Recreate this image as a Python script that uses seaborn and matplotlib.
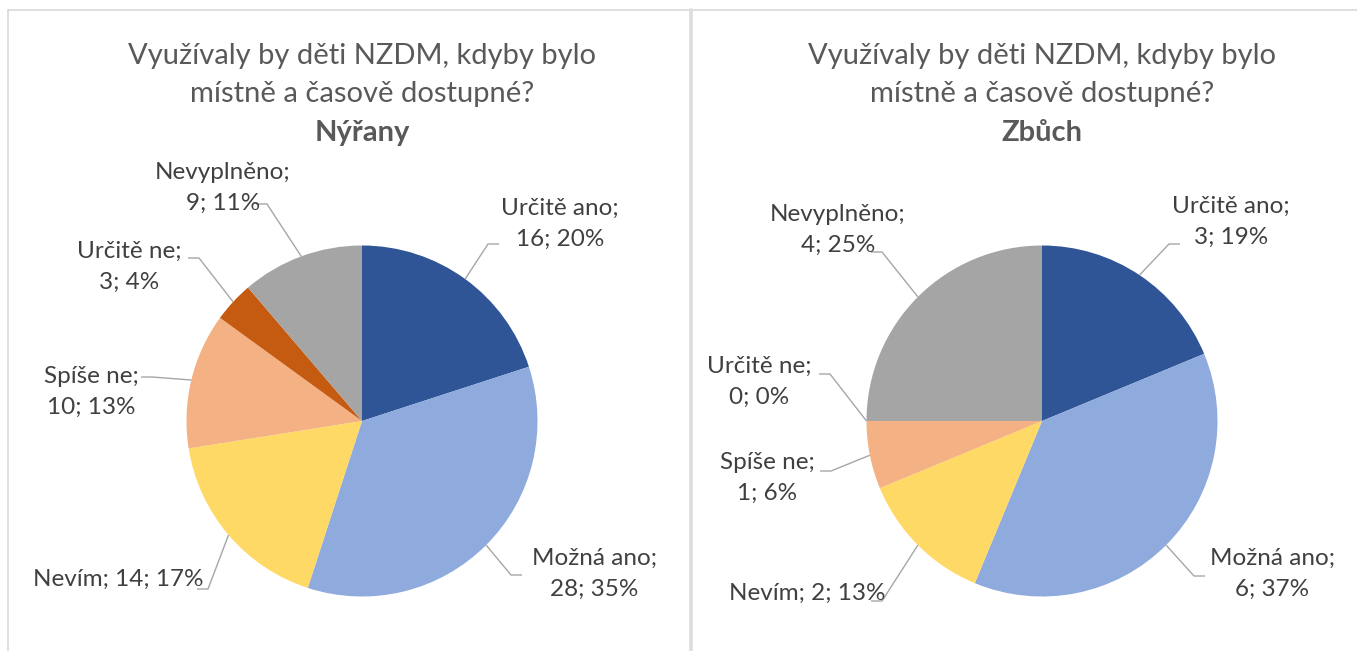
import math
import matplotlib
matplotlib.use("Agg")
import matplotlib.pyplot as plt
import seaborn as sns

# data
categories = ["Určitě ano", "Možná ano", "Nevím", "Spíše ne", "Určitě ne", "Nevyplněno"]
nyrany_counts = [16, 28, 14, 10, 3, 9]
nyrany_pct = [20, 35, 17, 13, 4, 11]
zbuch_counts = [3, 6, 2, 1, 0, 4]
zbuch_pct = [19, 37, 13, 6, 0, 25]
places = ["Nýřany", "Zbůch"]
question = "Využívaly by děti NZDM, kdyby bylo\nmístně a časově dostupné?"
slice_colors = ["#2F5597", "#8FAADC", "#FFD966", "#F4B183", "#C55A11", "#A5A5A5"]

sns.set_theme(style="white")
plt.rcParams["font.family"] = ["Lato", "DejaVu Sans"]

W, H = 1357, 651
fig = plt.figure(figsize=(W / 100, H / 100), dpi=100)
ax = fig.add_axes([0, 0, 1, 1])

# layout in pixel units (y measured from the top)
panels = [
    dict(cx=362, counts=nyrany_counts, pct=nyrany_pct, place=places[0],
         # text centre, end of leader stub next to text, stub direction
         labels=[((560, 224), (499, 244), -1), ((594, 574), (522, 575), -1),
                 ((118, 579), (197, 589), 1), ((91, 392), (141, 377), 1),
                 ((129, 267), (188, 258), 1), ((223, 188), (256, 204), 1)]),
    dict(cx=1042, counts=zbuch_counts, pct=zbuch_pct, place=places[1],
         labels=[((1231, 222), (1180, 244), -1), ((1272, 574), (1205, 576), -1),
                 ((807, 593), (871, 601), 1), ((767, 478), (820, 471), 1),
                 ((759, 382), (819, 374), 1), ((838, 230), (871, 252), 1)]),
]
cy, radius = 421, 175.5
one_line = {"Nevím"}
txt_col = "#404040"
line_col = "#A6A6A6"

for p in panels:
    wedges, _ = ax.pie(p["counts"], colors=slice_colors, startangle=90,
                       counterclock=False, center=(p["cx"], H - cy),
                       radius=radius, wedgeprops=dict(linewidth=0))
    for i, w in enumerate(wedges):
        cat, n, pc = categories[i], p["counts"][i], p["pct"][i]
        sep = " " if cat in one_line else "\n"
        (tx, ty), (sx, sy), d = p["labels"][i]
        ax.text(tx, H - ty, f"{cat};{sep}{n}; {pc}%", ha="center", va="center",
                multialignment="center", fontsize=17.5, color=txt_col,
                linespacing=1.55)
        mid = math.radians((w.theta1 + w.theta2) / 2)
        axx = p["cx"] + radius * math.cos(mid)
        ayy = (H - cy) + radius * math.sin(mid)
        ex = sx + d * 11
        ax.plot([sx, ex, axx], [H - sy, H - sy, ayy], color=line_col, lw=1.0,
                solid_capstyle="butt")
    ax.text(p["cx"], H - 75, question, ha="center", va="center",
            fontsize=21, color="#595959", linespacing=1.6)
    ax.text(p["cx"], H - 133, p["place"], ha="center", va="center",
            fontsize=21, color="#595959", fontweight="bold")

# panel frames
ax.plot([8, W], [H - 10, H - 10], color="#D9D9D9", lw=1.2)
ax.plot([8, 8], [H - 10, 0], color="#D9D9D9", lw=1.2)
ax.plot([691, 691], [H - 10, 0], color="#DDDDDD", lw=2.6)

ax.set_xlim(0, W)
ax.set_ylim(0, H)
ax.set_aspect("equal")
ax.axis("off")

fig.savefig("out.png", dpi=100, facecolor="white")
